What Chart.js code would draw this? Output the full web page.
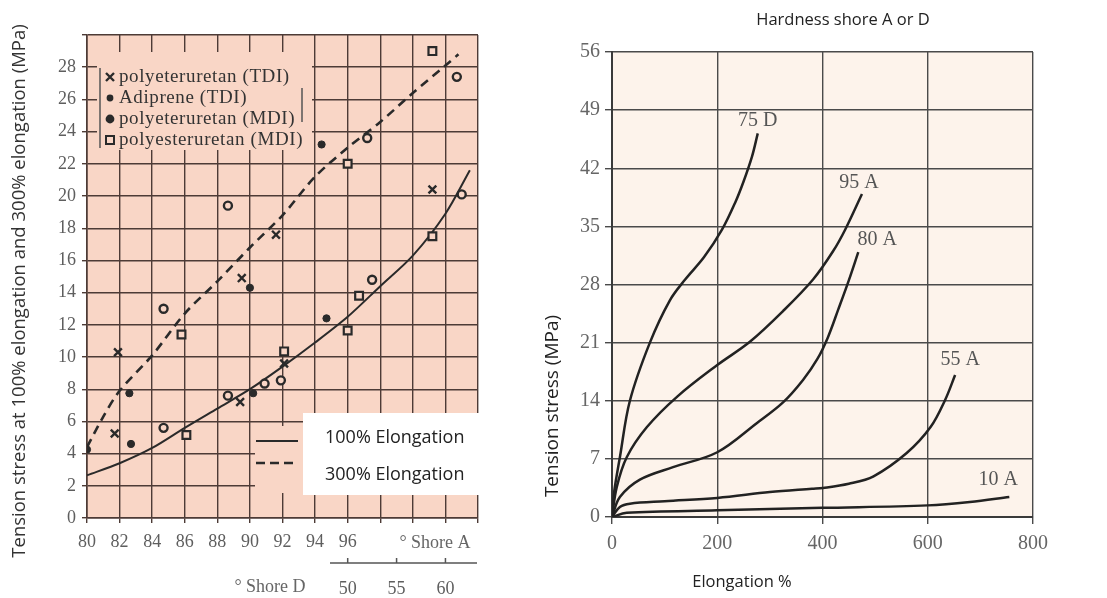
<!DOCTYPE html>
<html>
<head>
<meta charset="utf-8">
<script src="https://cdn.jsdelivr.net/npm/chart.js@4.4.0/dist/chart.umd.min.js"></script>
<style>
    body { margin: 0; background: #ffffff; width: 1107px; height: 598px; overflow: hidden; position: relative; }
    #boxEsquerda { position: absolute; left: 0; top: 0; width: 530px; height: 598px; }
    #boxDireita { position: absolute; left: 530px; top: 0; width: 577px; height: 598px; }
</style>
</head>
<body>
<div id="boxEsquerda"><canvas id="graficoShore"></canvas></div>
<div id="boxDireita"><canvas id="graficoAlongamento"></canvas></div>
<script>
// ---- grafico da esquerda: tensao x dureza shore ----
// pontos [shore A, MPa]
const eterTdi = [[81.7, 5.25], [81.9, 10.3], [89.4, 7.2], [89.5, 14.9], [91.6, 17.6], [92.1, 9.6], [101.2, 20.4]];
const adipreneTdi = [[80, 4.25], [82.6, 7.75], [82.7, 4.6], [90, 14.3], [90.2, 7.75], [94.4, 23.2], [94.7, 12.4]];
const eterMdi = [[84.7, 13.0], [84.7, 5.6], [88.65, 19.4], [88.65, 7.6], [90.9, 8.35], [91.9, 8.55], [97.2, 23.6], [97.5, 14.8], [102.7, 27.4], [103, 20.1]];
const esterMdi = [[85.8, 11.4], [86.1, 5.15], [92.1, 10.35], [96.0, 11.65], [96.0, 22.0], [96.7, 13.8], [101.2, 17.5], [101.2, 29.0]];

const linha100 = [[80, 2.65], [82, 3.4], [84, 4.35], [86, 5.6], [88, 6.8], [90, 8.0], [92, 9.4], [94, 10.9], [96, 12.5], [98, 14.4], [100, 16.3], [102, 18.9], [103.5, 21.6]];
const linha300 = [[80, 4.4], [81, 6.3], [82, 7.9], [84, 10.1], [86, 12.7], [88, 14.7], [90, 16.8], [92, 18.8], [94, 21.2], [96, 23.0], [98, 24.6], [100, 26.4], [102, 28.1], [102.8, 28.8]];

const legendaPontos = ['polyeteruretan (TDI)', 'Adiprene (TDI)', 'polyeteruretan (MDI)', 'polyesteruretan (MDI)'];
const legendaLinhas = ['100% Elongation', '300% Elongation'];
const ultimoShoreA = 96;
const shoreDTicks = [50, 55, 60];
const tituloEsquerda = 'Tension stress at 100% elongation and 300% elongation (MPa)';

// ---- grafico da direita: tensao x alongamento ----
const curva75D = [[0, 0], [4, 3], [15, 7.2], [34, 14], [72, 21], [110, 26.1], [139, 28.6], [175, 31.3], [209, 34.6], [235, 38.0], [250, 40.4], [266, 43.4], [277, 46.2]];
const curva95A = [[0, 0], [9, 3.6], [28, 7.2], [66, 10.8], [124, 14.5], [200, 18.3], [262, 21.1], [325, 24.8], [382, 28.6], [420, 32.0], [443, 34.6], [475, 38.9]];
const curva80A = [[0, 0], [15, 2.4], [53, 4.5], [116, 6.0], [200, 7.8], [275, 11.3], [325, 13.8], [363, 16.5], [390, 19.0], [410, 21.6], [430, 25.0], [450, 28.5], [468, 31.9]];
const curva55A = [[0, 0], [15, 1.2], [34, 1.6], [100, 1.9], [200, 2.3], [300, 3.0], [380, 3.4], [401, 3.5], [450, 4.0], [497, 4.9], [560, 7.7], [605, 10.8], [633, 14.1], [652, 17.1]];
const curva10A = [[0, 0], [28, 0.5], [200, 0.8], [400, 1.1], [600, 1.4], [680, 1.8], [755, 2.4]];
const nomesCurvas = ['75 D', '95 A', '80 A', '55 A', '10 A'];

const rosa = '#f9d6c6';
const creme = '#fdf3eb';
const tinta = '#2a2a2a';
const serifa = '"Liberation Serif", "DejaVu Serif", serif';
const sans = '"Open Sans", "Noto Sans", sans-serif';

function paraXY(lista) {
    return lista.map(p => ({ x: p[0], y: p[1] }));
}

function desenharMarcador(ctx, tipo, x, y) {
    ctx.save();
    ctx.strokeStyle = tinta;
    ctx.fillStyle = tinta;
    ctx.lineWidth = 2.4;
    if (tipo === 'x') {
        ctx.beginPath();
        ctx.moveTo(x - 4, y - 4); ctx.lineTo(x + 4, y + 4);
        ctx.moveTo(x + 4, y - 4); ctx.lineTo(x - 4, y + 4);
        ctx.stroke();
    } else if (tipo === 'dot') {
        ctx.beginPath(); ctx.arc(x, y, 3.4, 0, Math.PI * 2); ctx.fill();
    } else if (tipo === 'dotBig') {
        ctx.beginPath(); ctx.arc(x, y, 4.4, 0, Math.PI * 2); ctx.fill();
    } else {
        ctx.fillStyle = rosa;
        ctx.fillRect(x - 4, y - 4, 8, 8);
        ctx.lineWidth = 2;
        ctx.strokeRect(x - 4, y - 4, 8, 8);
    }
    ctx.restore();
}

const pluginEsquerda = {
    id: 'extrasEsquerda',
    beforeDraw(chart) {
        const { ctx, chartArea } = chart;
        ctx.save();
        ctx.fillStyle = rosa;
        ctx.fillRect(chartArea.left, chartArea.top, chartArea.right - chartArea.left, chartArea.bottom - chartArea.top);
        ctx.restore();
    },
    beforeDatasetsDraw(chart) {
        const ctx = chart.ctx;
        ctx.save();
        // caixa da legenda dos pontos (cobre a grade)
        ctx.fillStyle = rosa;
        ctx.fillRect(97, 52, 215, 98);
        ctx.strokeStyle = '#555';
        ctx.lineWidth = 1.5;
        ctx.beginPath();
        ctx.moveTo(100, 68); ctx.lineTo(100, 148);
        ctx.moveTo(302, 88); ctx.lineTo(302, 122);
        ctx.stroke();
        const tipos = ['x', 'dot', 'dotBig', 'square'];
        ctx.font = '19px ' + serifa;
        ctx.letterSpacing = '0.6px';
        ctx.fillStyle = '#333';
        ctx.textBaseline = 'middle';
        legendaPontos.forEach((txt, i) => {
            const y = 77 + i * 21;
            desenharMarcador(ctx, tipos[i], 110, y);
            ctx.fillText(txt, 119, y);
        });
        ctx.restore();
    },
    afterDraw(chart) {
        const ctx = chart.ctx;
        const x2 = chart.scales.x2;
        ctx.save();
        // legenda das linhas
        ctx.fillStyle = rosa;
        ctx.fillRect(255, 426, 50, 67);
        ctx.fillStyle = '#ffffff';
        ctx.fillRect(303, 413, 177, 82);
        ctx.strokeStyle = tinta;
        ctx.lineWidth = 2;
        ctx.beginPath(); ctx.moveTo(256, 441); ctx.lineTo(298, 441); ctx.stroke();
        ctx.lineWidth = 2.6;
        ctx.setLineDash([9, 5]);
        ctx.beginPath(); ctx.moveTo(256, 463); ctx.lineTo(298, 463); ctx.stroke();
        ctx.setLineDash([]);
        ctx.font = '18px ' + sans;
        ctx.fillStyle = '#222';
        ctx.textBaseline = 'middle';
        ctx.fillText(legendaLinhas[0], 325, 438);
        ctx.fillText(legendaLinhas[1], 325, 475);

        // eixo Shore D
        ctx.strokeStyle = '#555';
        ctx.lineWidth = 1.5;
        ctx.beginPath(); ctx.moveTo(330, 563); ctx.lineTo(477, 563);
        shoreDTicks.forEach(v => {
            const px = x2.getPixelForValue(v);
            ctx.moveTo(px, 563); ctx.lineTo(px, 558);
        });
        ctx.stroke();
        ctx.font = '18px ' + serifa;
        ctx.fillStyle = '#666';
        ctx.textAlign = 'center';
        ctx.fillText('° Shore A', 435, 543);
        ctx.fillText('° Shore D', 270, 587);

        // titulo do eixo y
        ctx.translate(20, 291);
        ctx.rotate(-Math.PI / 2);
        ctx.font = '18.5px ' + sans;
        ctx.fillStyle = '#333';
        ctx.fillText(tituloEsquerda, 0, 0);
        ctx.restore();
    }
};

const gradeEsquerda = { color: '#4d3b36', lineWidth: 1.4, tickLength: 5 };

new Chart(document.getElementById('graficoShore').getContext('2d'), {
    type: 'scatter',
    data: {
        datasets: [
            { label: legendaPontos[0], data: paraXY(eterTdi), pointStyle: 'crossRot', pointRadius: 5.5, borderColor: tinta, borderWidth: 2.4 },
            { label: legendaPontos[1], data: paraXY(adipreneTdi), pointStyle: 'circle', pointRadius: 3.6, backgroundColor: tinta, borderColor: tinta, borderWidth: 1 },
            { label: legendaPontos[2], data: paraXY(eterMdi), pointStyle: 'circle', pointRadius: 4, backgroundColor: rosa, borderColor: tinta, borderWidth: 2.4 },
            { label: legendaPontos[3], data: paraXY(esterMdi), pointStyle: 'rect', pointRadius: 5.5, backgroundColor: rosa, borderColor: tinta, borderWidth: 2.2 },
            { label: legendaLinhas[0], data: paraXY(linha100), showLine: true, pointRadius: 0, borderColor: tinta, borderWidth: 2, tension: 0.3 },
            { label: legendaLinhas[1], data: paraXY(linha300), showLine: true, pointRadius: 0, borderColor: tinta, borderWidth: 2.6, borderDash: [9, 6], tension: 0.3 }
        ]
    },
    options: {
        responsive: true,
        maintainAspectRatio: false,
        animation: false,
        layout: { padding: { top: 35, right: 52, left: 0, bottom: 0 } },
        plugins: { legend: { display: false }, tooltip: { enabled: false } },
        scales: {
            x: {
                type: 'linear', min: 80, max: 104, weight: 0,
                grid: gradeEsquerda,
                border: { color: '#4d3b36', width: 1.6 },
                ticks: {
                    stepSize: 2, padding: 8, color: '#5e5e5e', font: { family: serifa, size: 18 },
                    callback: v => (v <= ultimoShoreA ? v : '')
                },
                afterFit: s => { s.height = 40; }
            },
            x2: {
                type: 'linear', position: 'bottom', min: 23.33, max: 63.33, weight: 1,
                grid: { display: false },
                border: { display: false },
                ticks: { padding: 12, color: '#5e5e5e', font: { family: serifa, size: 18 } },
                afterBuildTicks: s => { s.ticks = shoreDTicks.map(v => ({ value: v })); },
                afterFit: s => { s.height = 40; }
            },
            y: {
                min: 0, max: 30,
                grid: gradeEsquerda,
                border: { color: '#4d3b36', width: 1.6 },
                ticks: {
                    stepSize: 2, padding: 6, color: '#5e5e5e', font: { family: serifa, size: 18 },
                    callback: v => (v < 30 ? v : '')
                },
                afterFit: s => { s.width = 87; }
            }
        }
    },
    plugins: [pluginEsquerda]
});

// ---- direita ----
const deslocRotulos = [[0, -13], [-3, -11], [19, -12], [5, -15], [-11, -17]];

const pluginDireita = {
    id: 'extrasDireita',
    beforeDraw(chart) {
        const { ctx, chartArea } = chart;
        ctx.save();
        ctx.fillStyle = creme;
        ctx.fillRect(chartArea.left, chartArea.top, chartArea.right - chartArea.left, chartArea.bottom - chartArea.top);
        ctx.restore();
    },
    afterDraw(chart) {
        const { ctx, scales } = chart;
        ctx.save();
        ctx.font = '20px ' + serifa;
        ctx.fillStyle = '#555';
        ctx.textAlign = 'center';
        ctx.textBaseline = 'middle';
        chart.data.datasets.forEach((ds, i) => {
            const fim = ds.data[ds.data.length - 1];
            const px = scales.x.getPixelForValue(fim.x) + deslocRotulos[i][0];
            const py = scales.y.getPixelForValue(fim.y) + deslocRotulos[i][1];
            ctx.fillText(nomesCurvas[i], px, py);
        });
        ctx.font = '16.5px ' + sans;
        ctx.fillStyle = '#222';
        ctx.fillText('Hardness shore A or D', 313, 20);
        ctx.fillText('Elongation %', 212, 582);
        ctx.translate(23, 406);
        ctx.rotate(-Math.PI / 2);
        ctx.font = '19px ' + sans;
        ctx.fillText('Tension stress (MPa)', 0, 0);
        ctx.restore();
    }
};

function curva(lista, i) {
    return {
        label: nomesCurvas[i], data: paraXY(lista), showLine: true, pointRadius: 0,
        borderColor: '#222', borderWidth: 2.5, tension: 0.35
    };
}

const gradeDireita = { color: '#4a4a4a', lineWidth: 1.4, tickLength: 7 };

new Chart(document.getElementById('graficoAlongamento').getContext('2d'), {
    type: 'scatter',
    data: {
        datasets: [curva(curva75D, 0), curva(curva95A, 1), curva(curva80A, 2), curva(curva55A, 3), curva(curva10A, 4)]
    },
    options: {
        responsive: true,
        maintainAspectRatio: false,
        animation: false,
        layout: { padding: { top: 52, right: 74, left: 0, bottom: 0 } },
        plugins: { legend: { display: false }, tooltip: { enabled: false } },
        scales: {
            x: {
                type: 'linear', min: 0, max: 800,
                grid: gradeDireita,
                border: { color: '#3a3a3a', width: 2 },
                ticks: { stepSize: 200, padding: 8, color: '#666', font: { family: serifa, size: 20 } },
                afterFit: s => { s.height = 81; }
            },
            y: {
                min: 0, max: 56,
                grid: gradeDireita,
                border: { color: '#3a3a3a', width: 2 },
                ticks: { stepSize: 7, padding: 5, color: '#666', font: { family: serifa, size: 20 } },
                afterFit: s => { s.width = 82; }
            }
        }
    },
    plugins: [pluginDireita]
});
</script>
</body>
</html>
